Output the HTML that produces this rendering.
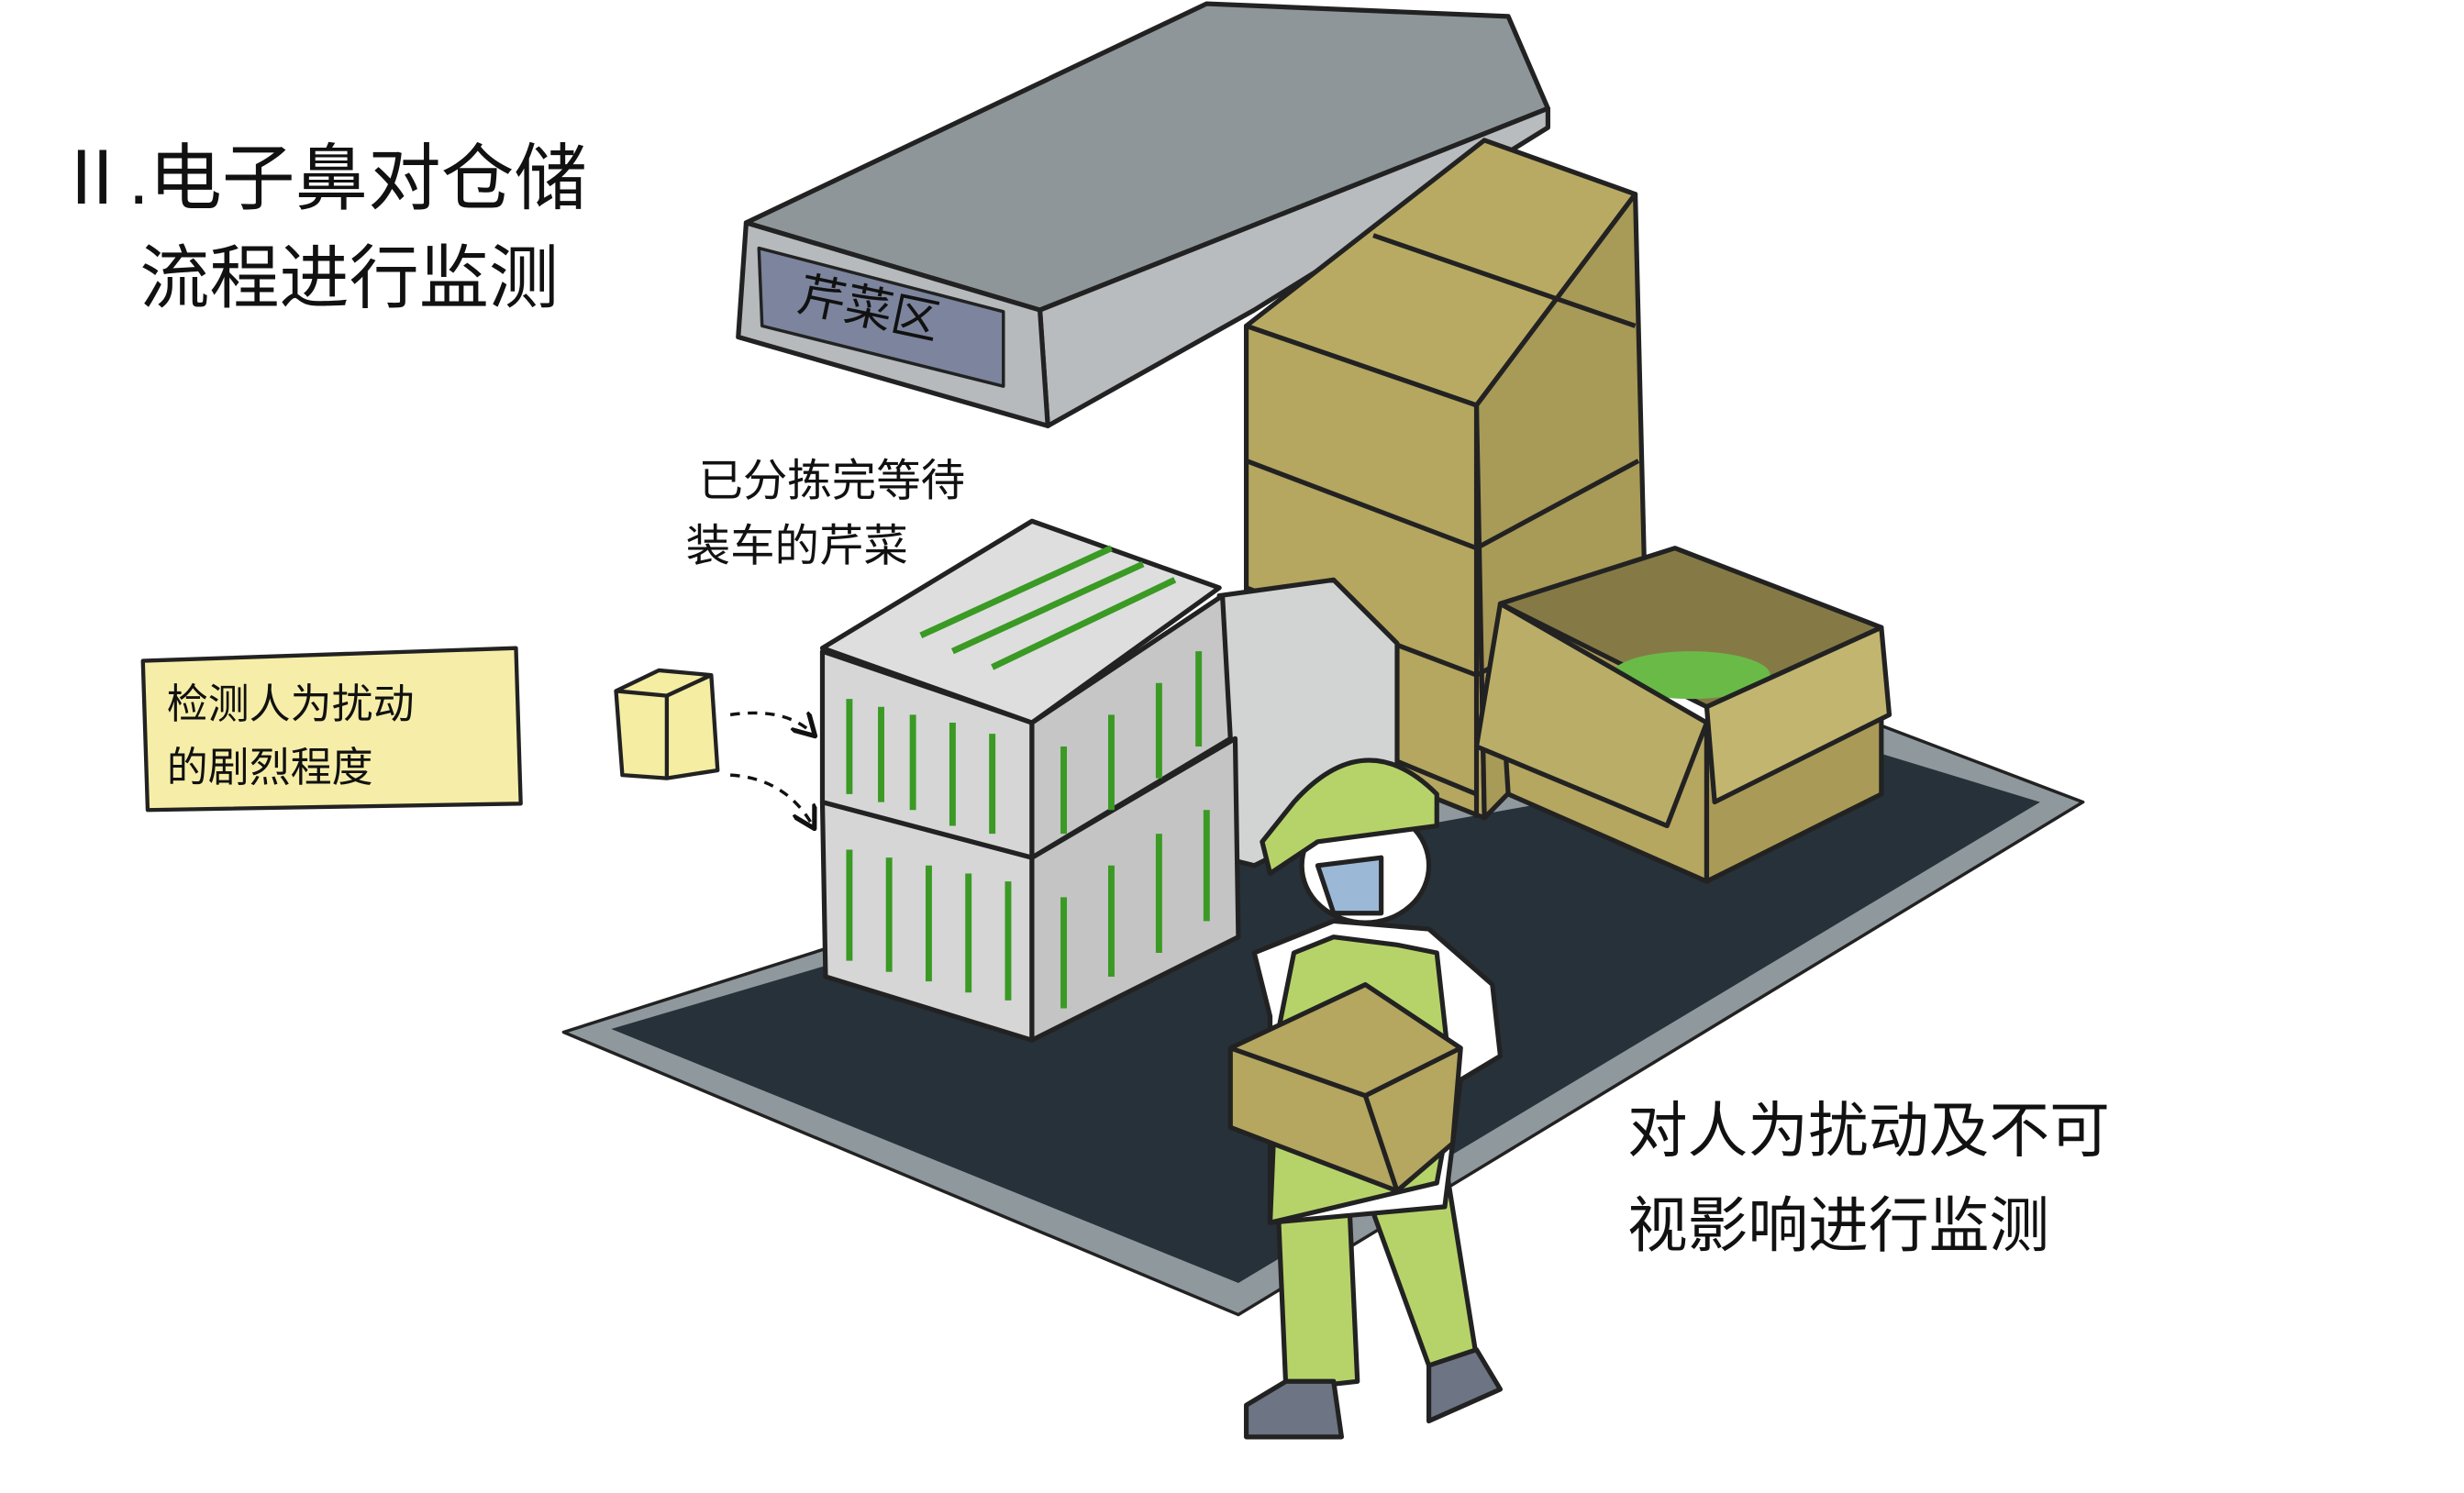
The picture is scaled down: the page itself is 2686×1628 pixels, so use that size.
<!DOCTYPE html>
<html><head><meta charset="utf-8">
<style>
html,body{margin:0;padding:0;background:#fff;width:2686px;height:1628px;overflow:hidden}
svg{display:block}
text{font-family:"Liberation Sans","WenQuanYi Zen Hei","Noto Sans CJK SC",sans-serif;fill:#111}
</style></head><body>
<svg width="2686" height="1628" viewBox="0 0 1552 940" xmlns="http://www.w3.org/2000/svg" stroke-linejoin="round">
<defs>
<marker id="ah" markerWidth="8" markerHeight="8" refX="6" refY="4" orient="auto"><path d="M0,0 L7,4 L0,8" fill="none" stroke="#111" stroke-width="1.5"/></marker>
</defs>
<polygon points="355,650 780,828 1312,505 1180,455 700,540" fill="#8f989d" stroke="#222" stroke-width="2"/>
<polygon points="385,648 780,808 1285,505 1170,470 700,555" fill="#27313a"/>
<polygon points="470,140 760,2 950,10 975,68 655,195" fill="#8e9699" stroke="#222" stroke-width="3"/>
<polygon points="655,195 975,68 975,80 790,195 660,268" fill="#b8bcbe" stroke="#222" stroke-width="3"/>
<polygon points="470,140 655,195 660,268 465,212" fill="#b6babd" stroke="#222" stroke-width="3"/>
<polygon points="478,156 632,196 632,243 480,205" fill="#7c859d" stroke="#222" stroke-width="2"/>
<text x="500" y="205" font-size="30" transform="rotate(12 550 205)">芹菜区</text>
<polygon points="785,205 935,88 1030,122 930,255" fill="#b8aa63" stroke="#222" stroke-width="3"/>
<polygon points="785,205 930,255 935,515 785,455" fill="#b5a660" stroke="#222" stroke-width="3"/>
<polygon points="930,255 1030,122 1037,410 935,515" fill="#a89a57" stroke="#222" stroke-width="3"/>
<path d="M865,148 L1030,205 M785,290 L930,345 L1032,290 M785,370 L930,425 L1035,370 M785,440 L930,500 M930,255 L930,515" stroke="#222" stroke-width="3" fill="none"/>
<polygon points="945,380 1055,345 1185,395 1075,445" fill="#857a45" stroke="#222" stroke-width="3"/>
<ellipse cx="1065" cy="425" rx="50" ry="15" fill="#6aba48"/>
<polygon points="945,420 1075,455 1075,555 950,500" fill="#b5a660" stroke="#222" stroke-width="3"/>
<polygon points="1075,455 1185,405 1185,500 1075,555" fill="#a99b57" stroke="#222" stroke-width="3"/>
<polygon points="945,380 930,470 1050,520 1075,455" fill="#baad67" stroke="#222" stroke-width="3"/>
<polygon points="1185,395 1190,450 1080,505 1075,445" fill="#c2b570" stroke="#222" stroke-width="3"/>
<polygon points="768,375 840,365 880,405 880,500 790,545 770,540" fill="#d2d3d3" stroke="#222" stroke-width="3"/>
<g stroke="#222" stroke-width="3">
<polygon points="518,505 650,540 650,655 520,615" fill="#d6d6d6"/>
<polygon points="650,540 778,465 780,590 650,655" fill="#c4c4c4"/>
<polygon points="518,410 650,455 650,540 518,505" fill="#d6d6d6"/>
<polygon points="650,455 770,375 775,465 650,540" fill="#c6c6c6"/>
<polygon points="518,408 650,328 768,370 650,455" fill="#dedede"/>
</g>
<g stroke="#3a9a24" stroke-width="4">
<path d="M535,440 L535,500 M555,445 L555,505 M575,450 L575,510 M600,455 L600,520 M625,462 L625,525 M670,470 L670,525 M700,450 L700,510 M730,430 L730,490 M755,410 L755,470"/>
<path d="M535,535 L535,605 M560,540 L560,612 M585,545 L585,618 M610,550 L610,625 M635,555 L635,630 M670,565 L670,635 M700,545 L700,615 M730,525 L730,600 M760,510 L760,580"/>
<path d="M580,400 L700,345 M600,410 L720,355 M625,420 L740,365"/>
</g>
<g stroke="#222" stroke-width="3">
<polygon points="805,760 850,760 855,870 810,875" fill="#b6d36a"/>
<polygon points="860,750 910,730 930,855 900,860" fill="#b6d36a"/>
<path d="M785,885 L810,870 L840,870 L845,905 L785,905Z" fill="#6d7483"/>
<path d="M900,860 L930,850 L945,875 L900,895Z" fill="#6d7483"/>
<path d="M790,600 L840,580 L900,585 L940,620 L945,665 L920,680 L910,760 L800,770 L800,640 Z" fill="#fff"/>
<path d="M815,600 L840,590 L880,595 L905,600 L915,690 L905,745 L800,770 L805,650Z" fill="#b6d36a"/>
<ellipse cx="860" cy="545" rx="40" ry="36" fill="#fff"/>
<path d="M830,545 L870,540 L870,575 L840,575Z" fill="#9bb8d6"/>
<path d="M815,505 Q860,455 905,500 L905,520 L830,530 L800,550 L795,530Z" fill="#b6d36a"/>
<polygon points="775,660 860,620 920,660 915,720 880,750 775,710" fill="#b5a660"/>
<path d="M775,660 L860,690 L920,660 M860,690 L880,750" fill="none"/>
</g>
<polygon points="90,416 325,408 328,506 93,510" fill="#f6eea8" stroke="#222" stroke-width="2.5"/>
<text x="105" y="452" font-size="26">检测人为扰动</text>
<text x="105" y="492" font-size="26">的剧烈程度</text>
<polygon points="388,435 415,422 448,425 452,485 420,490 392,488" fill="#f4eda2" stroke="#222" stroke-width="2.5"/>
<path d="M388,435 L420,438 L448,425 M420,438 L420,490" stroke="#222" stroke-width="2.5" fill="none"/>
<path d="M460,450 Q495,445 512,462" stroke="#111" stroke-width="2" stroke-dasharray="6,5" fill="none" marker-end="url(#ah)"/>
<path d="M460,488 Q495,490 512,520" stroke="#111" stroke-width="2" stroke-dasharray="6,5" fill="none" marker-end="url(#ah)"/>
<text x="35" y="128" font-size="46">Ⅱ.电子鼻对仓储</text>
<text x="88" y="190" font-size="44">流程进行监测</text>
<text x="440" y="312" font-size="28">已分拣完等待</text>
<text x="432" y="353" font-size="28">装车的芹菜</text>
<text x="1025" y="725" font-size="38">对人为扰动及不可</text>
<text x="1025" y="785" font-size="38">视影响进行监测</text>
</svg>
</body></html>
